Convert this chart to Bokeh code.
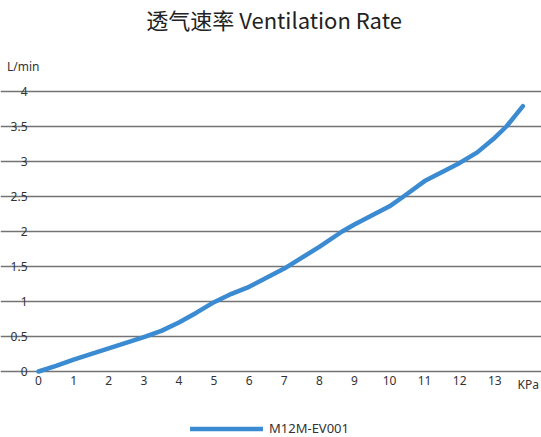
from bokeh.plotting import figure
from bokeh.models import Range1d, FixedTicker, Legend, LegendItem, Label
from bokeh.embed import file_html
from bokeh.resources import INLINE

title_text = "透气速率 Ventilation Rate"
series_name = "M12M-EV001"
x_unit = "KPa"
y_unit = "L/min"

pressure = [0, 0.5, 1, 2, 3, 3.5, 4, 4.5, 5, 5.5, 6, 7, 8, 8.65, 9, 10, 10.4, 11, 12, 12.5, 13, 13.33, 13.8]
flow = [0, 0.08, 0.17, 0.33, 0.49, 0.58, 0.70, 0.84, 0.99, 1.11, 1.21, 1.47, 1.78, 2.0, 2.10, 2.36, 2.5, 2.72, 2.98, 3.13, 3.34, 3.5, 3.79]

x_ticks = list(range(0, 14))
y_ticks = [0, 0.5, 1, 1.5, 2, 2.5, 3, 3.5, 4]
x_max = 14

FONT = "Noto Sans"
TXT = "#333333"

# frame fills the whole canvas; axes are pinned at 0 so that every text sits inside it
p = figure(width=541, height=437, output_backend="svg", toolbar_location=None,
           x_range=Range1d(-1.083, 14.33), y_range=Range1d(-0.943, 5.3),
           min_border=0)
p.outline_line_color = None
p.xgrid.visible = False
p.ygrid.ticker = FixedTicker(ticks=y_ticks)
p.ygrid.bounds = (0, x_max)
p.ygrid.grid_line_color = "#737373"
p.ygrid.grid_line_width = 1.7

p.xaxis.ticker = FixedTicker(ticks=x_ticks)
p.yaxis.ticker = FixedTicker(ticks=y_ticks)
p.yaxis.major_label_overrides = {t: f"{t:g}" for t in y_ticks}
p.xaxis.fixed_location = 0
p.yaxis.fixed_location = 0
for ax in (p.xaxis, p.yaxis):
    ax.axis_line_color = None
    ax.major_tick_line_color = None
    ax.minor_tick_line_color = None
    ax.major_tick_in = 0
    ax.major_tick_out = 0
    ax.minor_tick_in = 0
    ax.minor_tick_out = 0
    ax.major_label_text_font = FONT
    ax.major_label_text_font_size = "12px"
    ax.major_label_text_color = TXT
p.xaxis.major_label_standoff = 5
p.yaxis.major_label_standoff = 11

r = p.line(pressure, flow, line_color="#3a8bd1", line_width=4.5,
           line_cap="round", line_join="round")

legend = Legend(items=[LegendItem(label=series_name, renderers=[r])],
                location=(190, 0), glyph_width=73, glyph_height=15,
                label_standoff=6, padding=0, margin=0, border_line_color=None,
                background_fill_alpha=0, label_text_font=FONT,
                label_text_font_size="13px", label_text_color=TXT)
p.add_layout(legend)

p.add_layout(Label(x=0, y=4.36, text=y_unit, text_align="right", text_baseline="middle",
                   x_offset=1, text_font=FONT, text_font_size="12px", text_color=TXT))
p.add_layout(Label(x=x_max, y=0, text=x_unit, text_align="right", text_baseline="top",
                   x_offset=9, y_offset=-5, text_font=FONT, text_font_size="12px",
                   text_color=TXT))
p.add_layout(Label(x=6.71, y=5.03, text=title_text, text_align="center",
                   text_baseline="middle", text_font="Noto Sans CJK SC",
                   text_font_size="22px", text_color="#222222"))

open("out.html", "w").write(file_html(p, INLINE))
